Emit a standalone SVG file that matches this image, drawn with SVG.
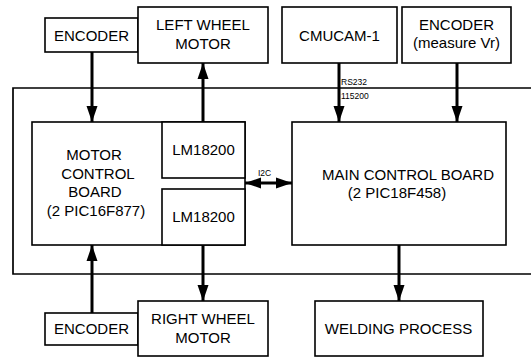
<svg xmlns="http://www.w3.org/2000/svg" width="531" height="358" viewBox="0 0 531 358">
<defs>
<style>
.box{fill:#fff;stroke:#000;stroke-width:1.6}
.frame{fill:none;stroke:#000;stroke-width:1.7}
.t{font-family:"Liberation Sans",Arial,sans-serif;font-size:15px;fill:#000;text-anchor:middle}
.s{font-family:"Liberation Sans",Arial,sans-serif;font-size:8.5px;fill:#000}
.c{fill:none;stroke:#000;stroke-width:3}
</style>
<marker id="ah" markerUnits="userSpaceOnUse" markerWidth="17" markerHeight="12" refX="16" refY="6" orient="auto-start-reverse">
<path d="M0,0.5 L16,6 L0,11.5 z" fill="#000"/>
</marker>
</defs>
<rect width="531" height="358" fill="#fff"/>
<path class="frame" d="M533,88 H13 V274 H533"/>

<g id="encoder-top">
<rect class="box" x="45" y="18" width="93" height="34"/>
<text class="t" x="91.5" y="41">ENCODER</text>
</g>
<g id="left-wheel-motor">
<rect class="box" x="138" y="7" width="130" height="56"/>
<text class="t" x="203" y="30">LEFT WHEEL</text>
<text class="t" x="203" y="49">MOTOR</text>
</g>
<g id="cmucam">
<rect class="box" x="282" y="7" width="115" height="56"/>
<text class="t" x="339.5" y="41">CMUCAM-1</text>
</g>
<g id="encoder-vr">
<rect class="box" x="402" y="7" width="109" height="56"/>
<text class="t" x="456.5" y="30">ENCODER</text>
<text class="t" x="456.5" y="48">(measure Vr)</text>
</g>
<g id="motor-control-board">
<rect class="box" x="32" y="122" width="213" height="123"/>
<text class="t" x="94" y="160">MOTOR</text>
<text class="t" x="98" y="179">CONTROL</text>
<text class="t" x="95" y="197">BOARD</text>
<text class="t" x="96" y="216">(2 PIC16F877)</text>
</g>
<g id="lm18200-top">
<rect class="box" x="162" y="122" width="83" height="56"/>
<text class="t" x="203.5" y="155">LM18200</text>
</g>
<g id="lm18200-bottom">
<rect class="box" x="162" y="189" width="83" height="56"/>
<text class="t" x="203.5" y="222">LM18200</text>
</g>
<g id="main-control-board">
<rect class="box" x="292" y="122" width="214" height="123"/>
<text class="t" x="408" y="180">MAIN CONTROL BOARD</text>
<text class="t" x="397" y="198">(2 PIC18F458)</text>
</g>
<g id="encoder-bottom">
<rect class="box" x="45" y="313" width="93" height="32"/>
<text class="t" x="91.5" y="334">ENCODER</text>
</g>
<g id="right-wheel-motor">
<rect class="box" x="138" y="301" width="130" height="55"/>
<text class="t" x="203" y="324">RIGHT WHEEL</text>
<text class="t" x="203" y="343">MOTOR</text>
</g>
<g id="welding-process">
<rect class="box" x="315" y="301" width="168" height="55"/>
<text class="t" x="398.5" y="334">WELDING PROCESS</text>
</g>

<g id="connectors">
<line class="c" x1="92" y1="52" x2="92" y2="122" marker-end="url(#ah)"/>
<line class="c" x1="203" y1="122" x2="203" y2="63" marker-end="url(#ah)"/>
<line class="c" x1="339" y1="63" x2="339" y2="122" marker-end="url(#ah)"/>
<line class="c" x1="457" y1="63" x2="457" y2="122" marker-end="url(#ah)"/>
<line class="c" x1="92" y1="313" x2="92" y2="245" marker-end="url(#ah)"/>
<line class="c" x1="203" y1="245" x2="203" y2="301" marker-end="url(#ah)"/>
<line class="c" x1="399" y1="245" x2="399" y2="301" marker-end="url(#ah)"/>
<line class="c" x1="245" y1="183" x2="292" y2="183" marker-start="url(#ah)" marker-end="url(#ah)"/>
<text class="s" x="258" y="176">I2C</text>
<text class="s" x="341" y="85">RS232</text>
<text class="s" x="341" y="99">115200</text>
</g>
</svg>
